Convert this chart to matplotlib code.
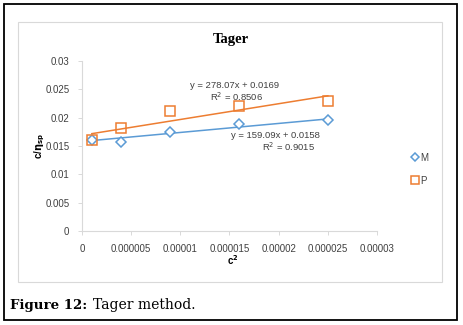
import numpy as np
import matplotlib.pyplot as plt
from matplotlib.patches import Rectangle

# data
c2 = [0.000001, 0.000004, 0.000009, 0.000016, 0.000025]
m_vals = [0.0160, 0.0157, 0.0175, 0.0189, 0.0196]
p_vals = [0.0161, 0.0181, 0.0211, 0.0221, 0.0230]
m_fit = (159.09, 0.0158)
p_fit = (278.07, 0.0169)
x_ticks = [0, 0.000005, 0.00001, 0.000015, 0.00002, 0.000025, 0.00003]
x_tick_labels = ['0', '0.000005', '0.00001', '0.000015', '0.00002', '0.000025', '0.00003']
y_ticks = [0, 0.005, 0.01, 0.015, 0.02, 0.025, 0.03]
y_tick_labels = ['0', '0.005', '0.01', '0.015', '0.02', '0.025', '0.03']

W, H = 464, 325
fig = plt.figure(figsize=(W / 100, H / 100), dpi=100)

def px(x0, y0, x1, y1):
    return [x0 / W, 1 - y1 / H, (x1 - x0) / W, (y1 - y0) / H]

# outer black frame and inner chart frame
fig.patches.append(Rectangle((4 / W, 1 - 320 / H), 453 / W, 316 / H, transform=fig.transFigure,
                             fill=False, edgecolor='black', lw=1.3))
fig.patches.append(Rectangle((18 / W, 1 - 282 / H), 424 / W, 260 / H, transform=fig.transFigure,
                             fill=False, edgecolor='#d9d9d9', lw=0.8))

ax = fig.add_axes(px(82, 61, 377, 231))
blue = '#5B9BD5'
orange = '#ED7D31'

ax.plot(c2, m_vals, linestyle='none', marker='D', markersize=5, markerfacecolor='white',
        markeredgecolor=blue, markeredgewidth=1.1, label='M', zorder=3)
ax.plot(c2, p_vals, linestyle='none', marker='s', markersize=7.5, markerfacecolor='none',
        markeredgecolor=orange, markeredgewidth=1.1, label='P', zorder=4)

xs = np.array([c2[0], c2[-1]])
ax.plot(xs, m_fit[0] * xs + m_fit[1], color=blue, lw=1.1, zorder=2)
ax.plot(xs, p_fit[0] * xs + p_fit[1], color=orange, lw=1.1, zorder=2)

ax.set_xlim(0, 0.00003)
ax.set_ylim(0, 0.03)
ax.set_xticks(x_ticks)
ax.set_xticklabels(x_tick_labels)
ax.set_yticks(y_ticks)
ax.set_yticklabels(y_tick_labels)
ax.tick_params(labelsize=7, colors='#d9d9d9', labelcolor='#404040', length=3, width=0.7)
for lab in ax.get_xticklabels() + ax.get_yticklabels():
    lab.set_family('Liberation Sans')
for s in ['top', 'right']:
    ax.spines[s].set_visible(False)
for s in ['left', 'bottom']:
    ax.spines[s].set_color('#d9d9d9')
    ax.spines[s].set_linewidth(0.8)
ax.tick_params(axis='y', pad=6)
ax.tick_params(axis='x', pad=6)

# trendline labels, placed where Excel put them
eq_style = dict(fontsize=6.8, color='#404040', family='Liberation Sans', transform=fig.transFigure)
fig.text(190 / W, 1 - 88 / H, 'y = 278.07x + 0.0169', **eq_style)
fig.text(210 / W, 1 - 101 / H, 'R$^2$ = 0.8506', **eq_style)
fig.text(231 / W, 1 - 138 / H, 'y = 159.09x + 0.0158', **eq_style)
fig.text(262 / W, 1 - 151 / H, 'R$^2$ = 0.9015', **eq_style)

fig.text(231 / W, 1 - 40 / H, 'Tager', ha='center', va='center', fontsize=10.5,
         fontweight='bold', family='Liberation Serif')
fig.text(233 / W, 1 - 260 / H, 'c$^\\mathbf{2}$', ha='center', va='center', fontsize=7,
         fontweight='bold', family='Liberation Sans')
fig.text(40 / W, 1 - 146 / H, 'c/$\\mathbf{\\eta_{sp}}$', ha='center', va='center', fontsize=7,
         fontweight='bold', rotation=90, family='Liberation Sans')

leg = ax.legend(loc='upper left', bbox_to_anchor=(407 / W, 1 - 148 / H), bbox_transform=fig.transFigure,
                frameon=False, fontsize=7, handlelength=0.6, handletextpad=0.3, labelspacing=1.3,
                borderpad=0, markerscale=0.75)
for t in leg.get_texts():
    t.set_color('#404040')
    t.set_family('Liberation Sans')

fig.text(10 / W, 1 - 305 / H, 'Figure 12:', ha='left', va='center', fontsize=9.6,
         fontweight='bold', family='DejaVu Serif')
fig.text(93 / W, 1 - 305 / H, 'Tager method.', ha='left', va='center', fontsize=10,
         family='DejaVu Serif')

fig.savefig('out.png', dpi=100)
